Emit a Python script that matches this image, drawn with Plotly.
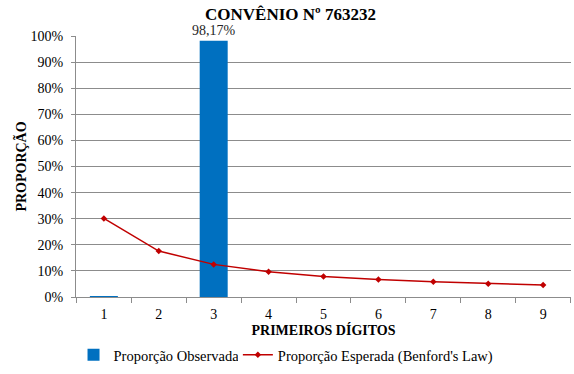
import plotly.graph_objects as go

# First-digit distribution for the agreement
digits = ["1", "2", "3", "4", "5", "6", "7", "8", "9"]
observed = [0.003, 0.0, 0.9817, 0.0, 0.0, 0.0, 0.0, 0.0, 0.0]
benford = [0.301, 0.176, 0.125, 0.097, 0.079, 0.067, 0.058, 0.051, 0.046]
bar_labels = ["", "", "98,17%", "", "", "", "", "", ""]

serif = "Liberation Serif"
grid_col = "#8c8c8c"

fig = go.Figure()
fig.add_trace(go.Bar(
    x=digits, y=observed, name="Proporção Observada",
    marker=dict(color="#0070C0", line=dict(width=0)),
    text=bar_labels, textposition="outside", cliponaxis=False,
    constraintext="none",
    textfont=dict(family=serif, size=14, color="#262626"),
    legend="legend",
))
fig.add_trace(go.Scatter(
    x=digits, y=benford, name="Proporção Esperada (Benford's Law)",
    mode="lines+markers",
    line=dict(color="#C00000", width=1.5),
    marker=dict(symbol="diamond", size=5, color="#C00000"),
    legend="legend2",
))

legend_font = dict(family=serif, size=14.5, color="#000000")

fig.update_layout(
    width=574, height=374,
    margin=dict(l=76, r=3, t=36, b=77),
    paper_bgcolor="white", plot_bgcolor="white",
    separators=",.",
    bargap=0.49,
    font=dict(family=serif, size=14, color="#000000"),
    title=dict(text="<b>CONVÊNIO Nº 763232</b>", x=0.506, xanchor="center",
               y=0.962, yanchor="middle",
               font=dict(family=serif, size=17, color="#000000")),
    showlegend=True,
    legend=dict(orientation="h", x=-0.005, xanchor="left", y=-0.222, yanchor="middle",
                font=legend_font, itemwidth=30),
    legend2=dict(orientation="h", x=0.327, xanchor="left", y=-0.222, yanchor="middle",
                 font=legend_font, itemwidth=30),
    xaxis=dict(
        type="category", tickson="boundaries", ticks="outside", ticklen=5,
        tickcolor=grid_col, showline=True, linecolor=grid_col, linewidth=1,
        showgrid=False, ticklabelstandoff=4,
        tickfont=dict(family=serif, size=14, color="#000000"),
        title=dict(text="<b>PRIMEIROS DÍGITOS</b>", standoff=2,
                   font=dict(family=serif, size=14, color="#000000")),
    ),
    yaxis=dict(
        range=[0, 1], dtick=0.1, tickformat=".0%",
        ticks="outside", ticklen=4, tickcolor=grid_col,
        showline=True, linecolor=grid_col, linewidth=1,
        showgrid=True, gridcolor=grid_col, gridwidth=1,
        zeroline=False, ticklabelstandoff=5,
        tickfont=dict(family=serif, size=14, color="#000000"),
        title=dict(text="<b>PROPORÇÃO</b>", standoff=0,
                   font=dict(family=serif, size=14, color="#000000")),
    ),
)

fig.write_html("out.html")
